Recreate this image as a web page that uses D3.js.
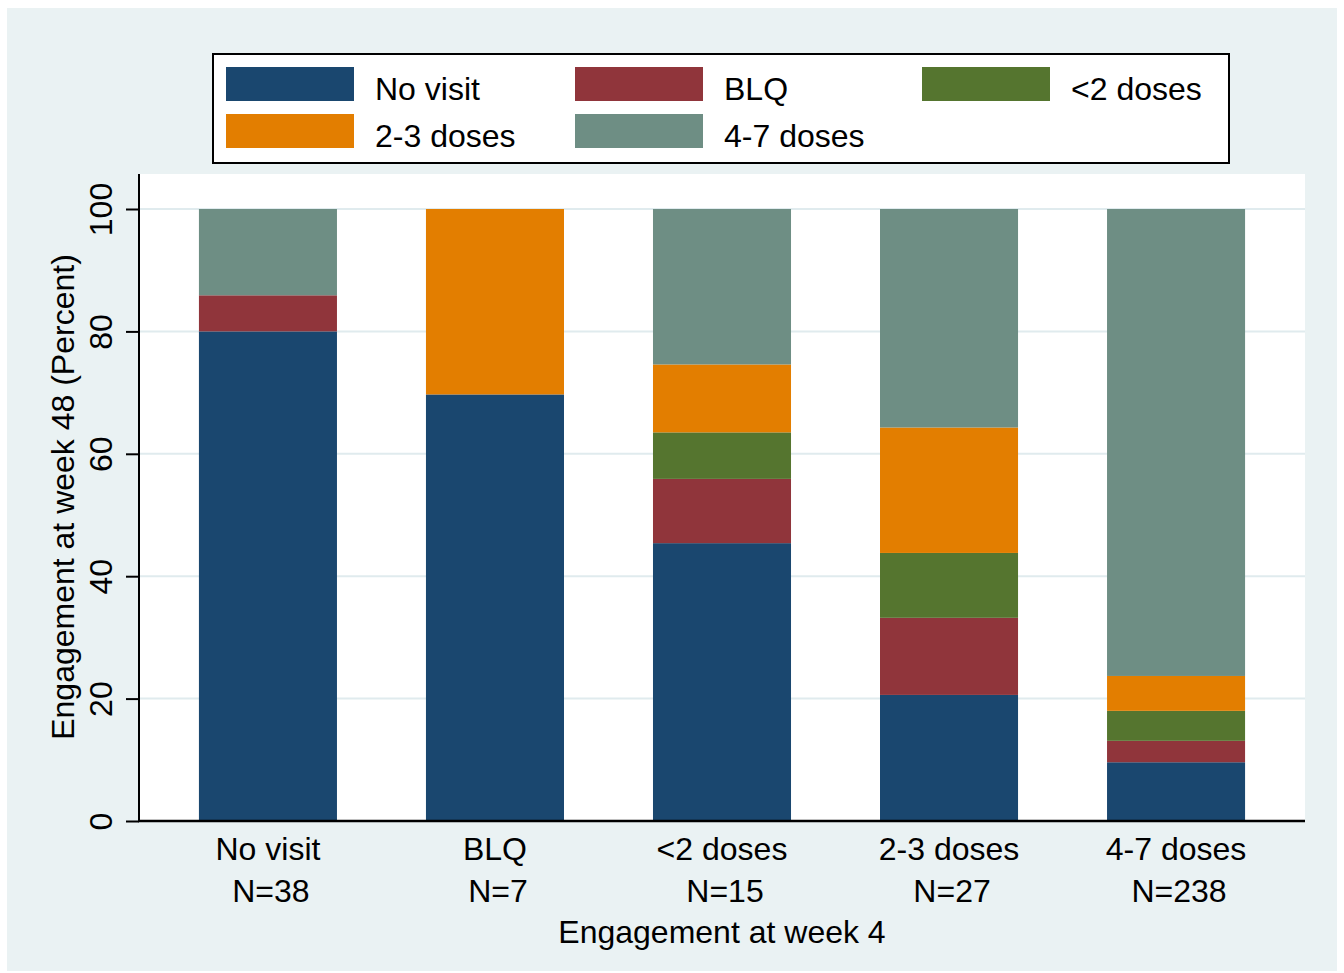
<!DOCTYPE html>
<html>
<head>
<meta charset="utf-8">
<script src="https://cdn.jsdelivr.net/npm/d3@7"></script>
<style>
  body { margin: 0; background: #fff; }
  text { font-family: "Liberation Sans", Arial, Helvetica, sans-serif; fill: #000; }
</style>
</head>
<body>
<svg id="chart" width="1344" height="973"></svg>
<script>
// week 4 groups (x axis)
var categories = ["No visit", "BLQ", "<2 doses", "2-3 doses", "4-7 doses"];
var nLabels = ["N=38", "N=7", "N=15", "N=27", "N=238"];
// week 48 outcome, percent within each week 4 group
var seriesNames = ["No visit", "BLQ", "<2 doses", "2-3 doses", "4-7 doses"];
var noVisit = [80.0, 69.7, 45.4, 20.6, 9.6];
var blq     = [5.9, 0, 10.5, 12.6, 3.5];
var lt2     = [0, 0, 7.6, 10.6, 4.9];
var dose23  = [0, 30.3, 11.1, 20.5, 5.7];
var dose47  = [14.1, 0, 25.4, 35.7, 76.3];
var yTicks = [0, 20, 40, 60, 80, 100];

var colors = ["#1a476f", "#90353b", "#55752f", "#e37e00", "#6e8e84"];

var seriesVals = [noVisit, blq, lt2, dose23, dose47];
var table = categories.map(function(c, i) {
    var row = {cat: c};
    seriesNames.forEach(function(s, j) { row[s] = seriesVals[j][i]; });
    return row;
});

var svg = d3.select("#chart");

// outer graph region
svg.append("rect")
    .attr("x", 7).attr("y", 8)
    .attr("width", 1330).attr("height", 963)
    .attr("fill", "#eaf2f3");

var plotLeft = 139, plotRight = 1305, plotTop = 174, plotBottom = 821;

// plot region
svg.append("rect")
    .attr("x", plotLeft).attr("y", plotTop)
    .attr("width", plotRight - plotLeft).attr("height", plotBottom - plotTop)
    .attr("fill", "#fff");

var x = d3.scaleBand()
    .domain(categories)
    .range([plotLeft, plotRight])
    .paddingInner(0.392)
    .paddingOuter(0.264);

var y = d3.scaleLinear()
    .domain([0, 100])
    .range([plotBottom, 209]);

// gridlines
svg.append("g")
    .selectAll("line")
    .data(yTicks.filter(function(d) { return d > 0; }))
    .enter().append("line")
    .attr("x1", plotLeft).attr("x2", plotRight)
    .attr("y1", function(d) { return y(d); })
    .attr("y2", function(d) { return y(d); })
    .attr("stroke", "#e0ebee")
    .attr("stroke-width", 2);

// stacked bars
var stacked = d3.stack().keys(seriesNames)(table);

svg.append("g")
    .selectAll("g")
    .data(stacked)
    .enter().append("g")
    .attr("fill", function(d, i) { return colors[i]; })
    .selectAll("rect")
    .data(function(d) { return d; })
    .enter().append("rect")
    .attr("x", function(d) { return x(d.data.cat); })
    .attr("width", x.bandwidth())
    .attr("y", function(d) { return y(d[1]); })
    .attr("height", function(d) { return y(d[0]) - y(d[1]); });

// y axis
var yAxis = svg.append("g")
    .attr("transform", "translate(" + plotLeft + ",0)")
    .call(d3.axisLeft(y).tickValues(yTicks).tickSize(13).tickSizeOuter(0).tickFormat(d3.format("d")));
yAxis.select(".domain").remove();
yAxis.selectAll(".tick line").attr("stroke", "#000").attr("stroke-width", 2);
yAxis.selectAll(".tick text")
    .attr("x", 0).attr("y", 0).attr("dy", 0)
    .attr("transform", "translate(-27,0) rotate(-90)")
    .attr("text-anchor", "middle")
    .style("font-size", "32px")
    .style("font-family", "'Liberation Sans', Arial, Helvetica, sans-serif");

svg.append("line")
    .attr("x1", plotLeft).attr("x2", plotLeft)
    .attr("y1", plotTop).attr("y2", plotBottom + 1)
    .attr("stroke", "#000").attr("stroke-width", 2);

// x axis line
svg.append("line")
    .attr("x1", plotLeft - 1).attr("x2", plotRight)
    .attr("y1", plotBottom).attr("y2", plotBottom)
    .attr("stroke", "#000").attr("stroke-width", 2.5);

// x category labels
var xl = svg.append("g").selectAll("g")
    .data(categories)
    .enter().append("g");
xl.append("text")
    .attr("x", function(d) { return x(d) + x.bandwidth() / 2; })
    .attr("y", 860)
    .attr("text-anchor", "middle")
    .style("font-size", "32px")
    .text(function(d) { return d; });
xl.append("text")
    .attr("x", function(d, i) { return x(d) + x.bandwidth() / 2 + 3; })
    .attr("y", 902)
    .attr("text-anchor", "middle")
    .style("font-size", "32px")
    .text(function(d, i) { return nLabels[i]; });

// axis titles
svg.append("text")
    .attr("x", (plotLeft + plotRight) / 2)
    .attr("y", 943)
    .attr("text-anchor", "middle")
    .style("font-size", "32px")
    .text("Engagement at week 4");

svg.append("text")
    .attr("transform", "translate(74," + 497 + ") rotate(-90)")
    .attr("text-anchor", "middle")
    .style("font-size", "32px")
    .text("Engagement at week 48 (Percent)");

// legend
svg.append("rect")
    .attr("x", 213).attr("y", 54)
    .attr("width", 1016).attr("height", 109)
    .attr("fill", "#fff")
    .attr("stroke", "#000")
    .attr("stroke-width", 2);

var colX = [226, 575, 922];
var rowY = [67, 114];
var leg = svg.append("g").selectAll("g")
    .data(seriesNames)
    .enter().append("g")
    .attr("transform", function(d, i) {
        return "translate(" + colX[i % 3] + "," + rowY[Math.floor(i / 3)] + ")";
    });
leg.append("rect")
    .attr("width", 128).attr("height", 34)
    .attr("fill", function(d, i) { return colors[i]; });
leg.append("text")
    .attr("x", 149).attr("y", 33)
    .style("font-size", "32px")
    .text(function(d) { return d; });
</script>
</body>
</html>
